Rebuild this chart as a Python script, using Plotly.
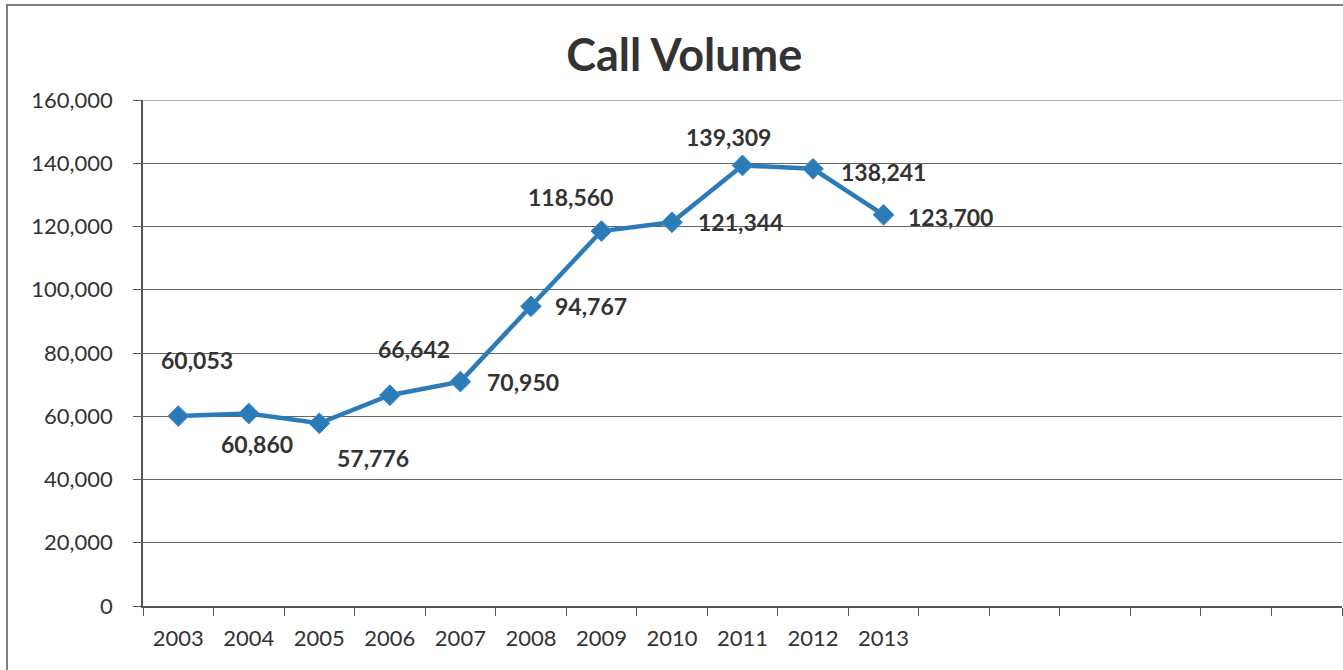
import plotly.graph_objects as go

# Annual call volume
years = [str(y) for y in range(2003, 2020)]
shown_years = ["2003", "2004", "2005", "2006", "2007", "2008",
               "2009", "2010", "2011", "2012", "2013"]
calls = [60053, 60860, 57776, 66642, 70950, 94767,
         118560, 121344, 139309, 138241, 123700]
y_ticks = [0, 20000, 40000, 60000, 80000, 100000, 120000, 140000, 160000]

# pixel offsets of each value label from its point
label_dx = [19, 8, 54, 24, 63, 60, -31, 69, -14, 70, 67]
label_dy = [56, -30, -35, 46, 0, 0, 34, 0, 28, -3, -2]

blue = "#2C7BB9"
ink = "#333333"
grid = "#666666"
font_family = "Lato"

fig = go.Figure()
fig.add_trace(go.Scatter(
    x=shown_years, y=calls, mode="lines+markers",
    line=dict(color=blue, width=4.5),
    marker=dict(symbol="diamond", size=16, color=blue,
                line=dict(color="#3A8CC8", width=1)),
    showlegend=False, hoverinfo="x+y",
))

# value labels; x given as category index so numeric-looking names are not misread
for i, (v, dx, dy) in enumerate(zip(calls, label_dx, label_dy)):
    fig.add_annotation(x=i, y=v, xref="x", yref="y", text=f"{v:,}", showarrow=False,
                       xshift=dx, yshift=dy,
                       font=dict(family=font_family, size=23, color=ink, weight="bold"))

fig.update_layout(
    width=1343, height=670,
    margin=dict(l=143, r=1, t=100, b=64),
    paper_bgcolor="white", plot_bgcolor="white",
    title=dict(text="Call Volume", x=0.5095, xanchor="center", y=0.918, yanchor="middle",
               font=dict(family=font_family, size=45, color=ink, weight="bold")),
    font=dict(family=font_family, color=ink),
)

fig.update_xaxes(
    type="category", categoryorder="array", categoryarray=years,
    range=[-0.5, len(years) - 0.5],
    tickvals=years,
    ticktext=[y if y in shown_years else "" for y in years],
    tickson="boundaries", ticks="outside", ticklen=8, tickcolor="#555",
    showline=True, linecolor="#555", linewidth=1.5,
    showgrid=False, tickfont=dict(family=font_family, size=22, color=ink),
    ticklabelstandoff=12,
)
fig.update_yaxes(
    range=[0, 160000], tickvals=y_ticks,
    ticktext=[f"{t:,}" for t in y_ticks],
    ticks="outside", ticklen=8, tickcolor="#555",
    showline=True, linecolor="#555", linewidth=1.5,
    showgrid=True, gridcolor=grid, gridwidth=1.2,
    zeroline=False,
    tickfont=dict(family=font_family, size=22, color=ink),
    ticklabelstandoff=16,
)

# gridline along the top of the plot area
fig.add_shape(type="line", xref="paper", yref="y", x0=0, x1=1,
              y0=y_ticks[-1], y1=y_ticks[-1], line=dict(color=grid, width=1.2),
              layer="below")

# outer chart border
fig.add_shape(type="rect", xref="paper", yref="paper",
              x0=(7 - 143) / 1199, x1=1.05, y0=-0.2, y1=(606 - 5) / 506,
              line=dict(color="#555", width=1.5), fillcolor="rgba(0,0,0,0)",
              layer="below")

fig.write_html("out.html")
